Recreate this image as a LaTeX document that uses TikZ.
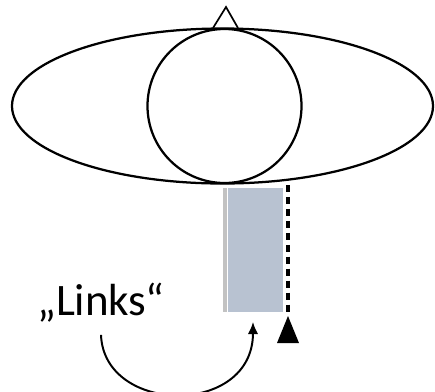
\documentclass[tikz,border=0pt]{standalone}
\usepackage{fontspec}
\setmainfont{Carlito}
\usetikzlibrary{arrows.meta,calc}
\definecolor{BoxClr}{rgb}{0.72,0.76,0.82}
\definecolor{StripClr}{rgb}{0.76,0.76,0.76}

\begin{document}
\begin{tikzpicture}[x=0.025cm,y=-0.025cm]
\tikzset{outline/.style={line width=1.6pt,black}}
\useasboundingbox (0,0) rectangle (435,391);

% head from above
\draw[outline] (222.5,106) ellipse [x radius=210.5, y radius=77.5];
\draw[outline] (224.5,106) circle [radius=77];
\draw[line width=1.2pt] (213,28) -- (226,7) -- (238,28);

% shaded strip
\fill[StripClr] (223,188) rectangle (226.5,312);
\fill[BoxClr] (228,188) rectangle (283,312);
\coordinate (box) at (253,322);

% dashed edge
\draw[line width=2.2pt,dash pattern=on 5pt off 3.5pt] (288,185) -- (288,312);
\fill (288,316) -- (299,343) -- (277,343) -- cycle;

\node[font=\fontsize{32}{36}\selectfont,anchor=base,outer sep=6pt] (links) at (101,315) {„Links“};

\draw[line width=1.4pt,-{Latex[length=3mm,width=2.6mm]}] (links.south) .. controls +(3,80) and +(0,95) .. (box);

\end{tikzpicture}
\end{document}
